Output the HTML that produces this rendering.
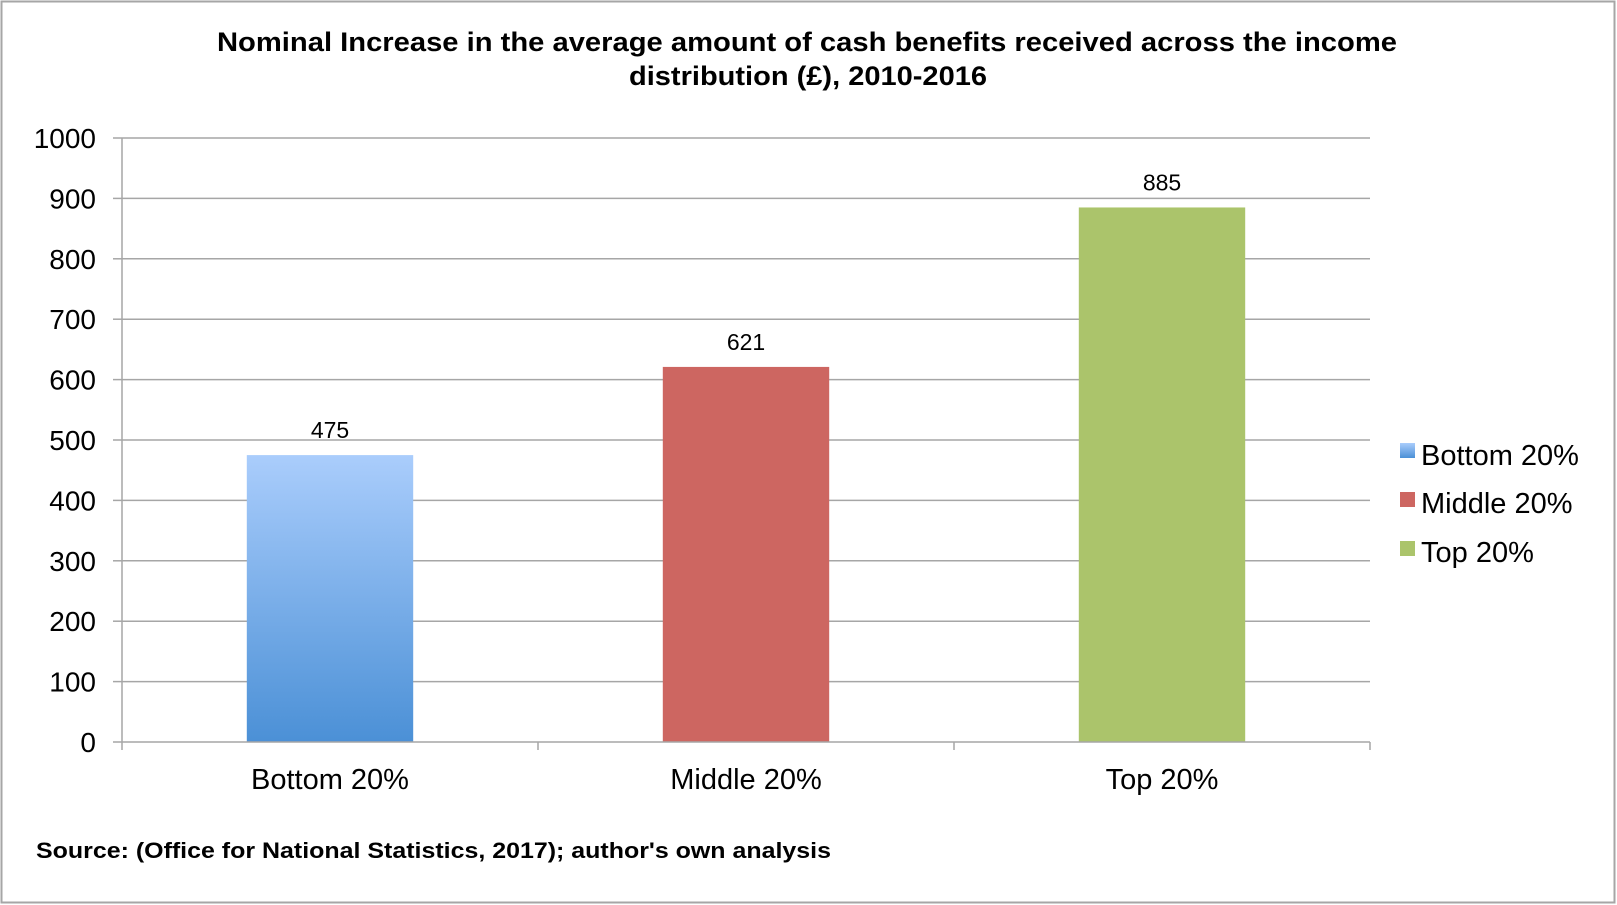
<!DOCTYPE html>
<html><head><meta charset="utf-8"><style>
html,body{margin:0;padding:0;background:#fff}
svg{display:block;font-family:"Liberation Sans",Arial,sans-serif}
</style></head><body>
<svg id="chart" width="1617" height="905" viewBox="0 0 1617 905">
<defs>
<linearGradient id="gBlue" x1="0" y1="0" x2="0" y2="1"><stop offset="0" stop-color="#aacdfc"/><stop offset="1" stop-color="#4b90d6"/></linearGradient>
</defs>
<rect x="1.5" y="1.5" width="1613" height="901" fill="#fff" stroke="#a6a6a6" stroke-width="2"/>
<text x="807" y="51" text-anchor="middle" font-size="27" font-weight="bold" textLength="1180" lengthAdjust="spacingAndGlyphs">Nominal Increase in the average amount of cash benefits received across the income</text>
<text x="808" y="85" text-anchor="middle" font-size="27" font-weight="bold" textLength="358" lengthAdjust="spacingAndGlyphs">distribution (£), 2010-2016</text>
<g id="grid"></g>
<g id="bars"></g>
<g id="axes"></g>
<g>
<rect x="1400" y="443" width="15" height="15" fill="url(#gBlue)"/>
<text x="1421" y="465" font-size="29">Bottom 20%</text>
<rect x="1400" y="492" width="15" height="15" fill="#cd6661"/>
<text x="1421" y="513" font-size="29">Middle 20%</text>
<rect x="1400" y="541" width="15" height="15" fill="#abc46b"/>
<text x="1421" y="562" font-size="29">Top 20%</text>
</g>
<text x="36" y="858" font-size="22" font-weight="bold" textLength="795" lengthAdjust="spacingAndGlyphs">Source: (Office for National Statistics, 2017); author's own analysis</text>
</svg>
<script>
const categories = ["Bottom 20%", "Middle 20%", "Top 20%"];
const values = [475, 621, 885];
const yTicks = [0, 100, 200, 300, 400, 500, 600, 700, 800, 900, 1000];
const fills = ["url(#gBlue)", "#cd6661", "#abc46b"];
const NS = "http://www.w3.org/2000/svg";
const L = 122, R = 1370, T = 138, B = 742, YMAX = 1000;
const y = v => B - (v / YMAX) * (B - T);
const band = (R - L) / categories.length;
const xc = i => L + band * (i + 0.5);
function mk(tag, attrs, parent, txt) {
  const e = document.createElementNS(NS, tag);
  for (const k in attrs) e.setAttribute(k, attrs[k]);
  if (txt !== undefined) e.textContent = txt;
  parent.appendChild(e);
  return e;
}
const grid = document.getElementById('grid');
const bars = document.getElementById('bars');
const axes = document.getElementById('axes');
yTicks.forEach(t => {
  if (t > 0) {
    const g = mk('line', {x1: L, x2: R, y1: y(t), y2: y(t), stroke: '#a6a6a6', 'stroke-width': 1.5}, grid);
    
    
  }
  const tk = mk('line', {x1: L - 9, x2: L, y1: y(t), y2: y(t), stroke: '#a6a6a6', 'stroke-width': 1.5}, axes);
  
  
  const lb = mk('text', {x: 96, y: y(t) + 10, 'text-anchor': 'end', 'font-size': 28}, axes, String(t));
  
  
});
const ya = mk('line', {x1: L, x2: L, y1: T, y2: B + 8, stroke: '#a6a6a6', 'stroke-width': 1.5}, axes);


const xa = mk('line', {x1: L, x2: R, y1: B, y2: B, stroke: '#a6a6a6', 'stroke-width': 1.5}, axes);


for (let i = 1; i <= categories.length; i++) {
  const t = mk('line', {x1: L + band * i, x2: L + band * i, y1: B, y2: B + 8, stroke: '#a6a6a6', 'stroke-width': 1.5}, axes);
  
  
}
const bw = band * 0.4;
categories.forEach((c, i) => {
  const r = mk('rect', {x: xc(i) - bw / 2, y: y(values[i]), width: bw, height: B - y(values[i]), fill: fills[i]}, bars);
  
  
  const v = mk('text', {x: xc(i), y: y(values[i]) - 17, 'text-anchor': 'middle', 'font-size': 23}, bars, String(values[i]));
  
  
  const xl = mk('text', {x: xc(i), y: 789, 'text-anchor': 'middle', 'font-size': 29}, axes, c);
  
  
});
</script>
</body></html>
